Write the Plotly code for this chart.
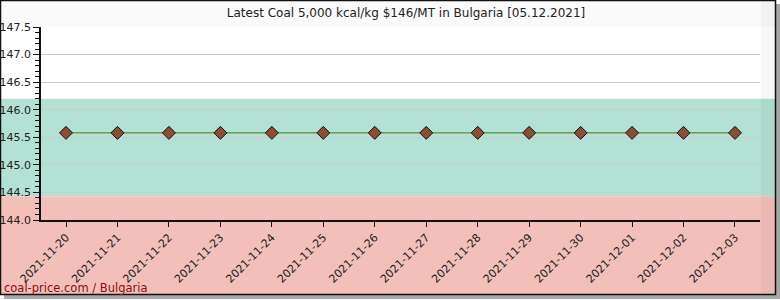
import plotly.graph_objects as go

# ---- data ----
dates = ["2021-11-20", "2021-11-21", "2021-11-22", "2021-11-23", "2021-11-24",
         "2021-11-25", "2021-11-26", "2021-11-27", "2021-11-28", "2021-11-29",
         "2021-11-30", "2021-12-01", "2021-12-02", "2021-12-03"]
prices = [145.58] * 14
y_range = [144.0, 147.5]
green_band = [144.43, 146.2]
title = "Latest Coal 5,000 kcal/kg $146/MT in Bulgaria [05.12.2021]"
footer = "coal-price.com / Bulgaria"

W, H = 780, 300
L, R, T, B = 41, 20, 27, 80
pw, ph = W - L - R, H - T - B


def px_x(p):
    return (p - L) / pw


def px_y(p):
    return (H - B - p) / ph


def val_y(v):
    return (v - y_range[0]) / (y_range[1] - y_range[0])


fig = go.Figure()
fig.add_trace(go.Scatter(
    x=dates, y=prices, mode="lines+markers",
    line=dict(color="#3d7a2c", width=1),
    marker=dict(symbol="diamond", size=10, color="#8b4d38",
                line=dict(color="#111111", width=1)),
    showlegend=False, hoverinfo="x+y"))

shapes = []
# title strip
shapes.append(dict(type="rect", xref="paper", yref="paper", layer="below",
                   x0=px_x(1), x1=px_x(775), y0=px_y(27), y1=px_y(1),
                   fillcolor="#fafafa", line=dict(width=0)))
# green band
shapes.append(dict(type="rect", xref="paper", yref="paper", layer="below",
                   x0=px_x(1), x1=px_x(775), y0=val_y(green_band[0]), y1=val_y(green_band[1]),
                   fillcolor="#b3e1d4", line=dict(width=0)))
# red band
shapes.append(dict(type="rect", xref="paper", yref="paper", layer="below",
                   x0=px_x(1), x1=px_x(775), y0=px_y(294), y1=val_y(green_band[0]),
                   fillcolor="#f2bfb9", line=dict(width=0)))
# right darker strip
shapes.append(dict(type="rect", xref="paper", yref="paper", layer="below",
                   x0=px_x(761), x1=px_x(775), y0=px_y(294), y1=px_y(1),
                   fillcolor="rgba(0,0,0,0.03)", line=dict(width=0)))
# shadow
shapes.append(dict(type="rect", xref="paper", yref="paper", layer="below",
                   x0=px_x(776), x1=px_x(780), y0=px_y(299), y1=px_y(4),
                   fillcolor="#a8a8a8", line=dict(width=0)))
shapes.append(dict(type="rect", xref="paper", yref="paper", layer="below",
                   x0=px_x(4), x1=px_x(780), y0=px_y(299), y1=px_y(295),
                   fillcolor="#a8a8a8", line=dict(width=0)))
# frame
shapes.append(dict(type="rect", xref="paper", yref="paper", layer="above",
                   x0=px_x(0.5), x1=px_x(775.5), y0=px_y(294.5), y1=px_y(0.5),
                   line=dict(color="#111111", width=1.5)))

fig.update_layout(
    width=W, height=H,
    margin=dict(l=L, r=R, t=T, b=B, pad=0, autoexpand=False),
    paper_bgcolor="#ffffff", plot_bgcolor="rgba(0,0,0,0)",
    font=dict(family="DejaVu Sans", size=11, color="#222222"),
    title=dict(text=title, x=px_x(406), xref="paper", xanchor="center",
               y=1 - 13 / H, yref="container", yanchor="middle",
               font=dict(family="DejaVu Sans", size=12, color="#222222")),
    shapes=shapes,
    annotations=[dict(text=footer, xref="paper", yref="paper",
                      x=px_x(2), y=px_y(288), xanchor="left", yanchor="middle",
                      showarrow=False,
                      font=dict(family="DejaVu Sans", size=11.5, color="#8b0d0d"))],
)

fig.update_xaxes(
    type="date", range=["2021-11-19 12:20", "2021-12-03 11:40"],
    tickvals=dates, ticktext=dates, tickangle=-45, automargin=False,
    ticks="outside", ticklen=5, tickcolor="#111111",
    showline=True, linecolor="#111111", linewidth=1.5,
    showgrid=False, zeroline=False,
    tickfont=dict(family="DejaVu Sans", size=11, color="#222222"))

fig.update_yaxes(
    range=y_range, dtick=0.5, tickformat=".1f", automargin=False,
    ticks="outside", ticklen=6, tickcolor="#111111",
    minor=dict(dtick=0.1, ticks="outside", ticklen=4, tickcolor="#111111", showgrid=False),
    showline=True, linecolor="#111111", linewidth=1.5,
    showgrid=True, gridcolor="#cccccc", gridwidth=1, zeroline=False,
    tickfont=dict(family="DejaVu Sans", size=11, color="#222222"))

fig.write_html("out.html")
